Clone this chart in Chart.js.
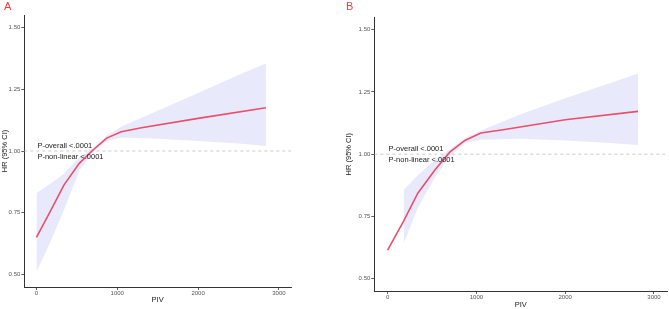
<!DOCTYPE html>
<html>
<head>
<meta charset="utf-8">
<script src="https://cdn.jsdelivr.net/npm/chart.js@4.4.1/dist/chart.umd.min.js"></script>
<style>
  body { margin: 0; background: #fff; }
  .panel { position: absolute; top: 0; height: 309px; }
  .tag { position: absolute; top: 0px; font: 11px "Liberation Sans", Arial, sans-serif; color: #f03c3c; }
</style>
</head>
<body>
<div class="panel" style="left:0;width:335px"><canvas id="chartA" width="335" height="309"></canvas></div>
<div class="panel" style="left:335px;width:334px"><canvas id="chartB" width="334" height="309"></canvas></div>
<div class="tag" style="left:4px">A</div>
<div class="tag" style="left:346px">B</div>
<script>
// panel A - fitted HR curve and 95% CI band
const curveXA = [0, 170, 340, 530, 700, 870, 1050, 1300, 2000, 2840];
const curveYA = [0.651, 0.755, 0.862, 0.950, 1.004, 1.052, 1.078, 1.094, 1.132, 1.175];
const bandXA = [0, 170, 340, 530, 700, 870, 1050, 1500, 2000, 2500, 2840];
const upperA = [0.829, 0.868, 0.908, 0.975, 1.012, 1.062, 1.098, 1.163, 1.235, 1.307, 1.354];
const lowerA = [0.512, 0.63, 0.76, 0.92, 0.995, 1.04, 1.055, 1.05, 1.04, 1.03, 1.02];

// panel B
const curveXB = [0, 180, 340, 530, 700, 870, 1050, 1300, 2000, 2820];
const curveYB = [0.614, 0.731, 0.843, 0.935, 1.008, 1.055, 1.085, 1.098, 1.138, 1.172];
const bandXB = [180, 340, 530, 700, 870, 1050, 1500, 2000, 2500, 2820];
const upperB = [0.856, 0.915, 0.975, 1.02, 1.065, 1.095, 1.16, 1.225, 1.285, 1.324];
const lowerB = [0.641, 0.785, 0.905, 0.99, 1.045, 1.058, 1.062, 1.055, 1.045, 1.037];

const xTicks = [0, 1000, 2000, 3000];
const yTicks = [0.5, 0.75, 1.0, 1.25, 1.5];
const pLabels = ['P-overall <.0001', 'P-non-linear <.0001'];

const FONT = '"Liberation Sans", Arial, sans-serif';
const lineColor = '#e8506a';
const bandColor = '#e9e9fc';

function pts(xs, ys) {
  return xs.map((x, i) => ({ x: x, y: ys[i] }));
}

// dashed HR = 1 reference line and the p-value text
const refPlugin = {
  id: 'ref',
  beforeDatasetsDraw(chart) {
    const { ctx, chartArea } = chart;
    const y = chart.scales.y.getPixelForValue(1);
    ctx.save();
    ctx.strokeStyle = '#bdbdbd';
    ctx.lineWidth = 0.8;
    ctx.setLineDash([3, 3]);
    ctx.beginPath();
    ctx.moveTo(chartArea.left, y);
    ctx.lineTo(chartArea.right, y);
    ctx.stroke();
    ctx.restore();
  },
  afterDatasetsDraw(chart) {
    const { ctx } = chart;
    const x = chart.scales.x.getPixelForValue(0) + 1;
    const y = chart.scales.y.getPixelForValue(1);
    ctx.save();
    ctx.font = '7.5px ' + FONT;
    ctx.fillStyle = '#1a1a1a';
    ctx.textBaseline = 'middle';
    ctx.fillText(pLabels[0], x, y - 5.5);
    ctx.fillText(pLabels[1], x, y + 6);
    ctx.restore();
  }
};

function makeChart(id, cx, cy, bx, up, lo, cfg) {
  return new Chart(document.getElementById(id), {
    type: 'scatter',
    data: {
      datasets: [
        { data: pts(cx, cy), showLine: true, pointRadius: 0, borderWidth: 1.6, borderColor: lineColor, fill: false },
        { data: pts(bx, lo), showLine: true, pointRadius: 0, borderWidth: 0, borderColor: 'transparent', fill: false },
        { data: pts(bx, up), showLine: true, pointRadius: 0, borderWidth: 0, borderColor: 'transparent', backgroundColor: bandColor, fill: '-1' }
      ]
    },
    options: {
      responsive: false,
      animation: false,
      events: [],
      layout: { padding: { left: 0, top: cfg.top, right: cfg.right, bottom: 0 } },
      plugins: { legend: { display: false }, tooltip: { enabled: false }, filler: { drawTime: 'beforeDatasetsDraw' } },
      scales: {
        x: {
          type: 'linear', min: -150, max: 3150,
          afterBuildTicks: s => { s.ticks = xTicks.map(v => ({ value: v })); },
          afterFit: s => { s.height = cfg.xh; },
          grid: { drawOnChartArea: false, drawTicks: true, tickLength: 3, tickColor: '#333', lineWidth: 0.8 },
          border: { display: true, color: '#333', width: 1 },
          ticks: { font: { family: FONT, size: 6 }, color: '#555', padding: 0, maxRotation: 0, callback: v => String(v) },
          title: { display: true, text: 'PIV', font: { family: FONT, size: 7.5 }, color: '#1a1a1a', padding: { top: 0, bottom: cfg.xtb } }
        },
        y: {
          type: 'linear', min: 0.45, max: 1.55,
          afterBuildTicks: s => { s.ticks = yTicks.map(v => ({ value: v })); },
          afterFit: s => { s.width = cfg.yw; },
          grid: { drawOnChartArea: false, drawTicks: true, tickLength: 3, tickColor: '#333', lineWidth: 0.8 },
          border: { display: true, color: '#333', width: 1 },
          ticks: { font: { family: FONT, size: 6 }, color: '#555', padding: 1, callback: v => v.toFixed(2) },
          title: { display: true, text: 'HR (95% CI)', font: { family: FONT, size: 7.5 }, color: '#1a1a1a', padding: { top: cfg.ytp, bottom: 0 } }
        }
      }
    },
    plugins: [refPlugin]
  });
}

makeChart('chartA', curveXA, curveYA, bandXA, upperA, lowerA, { top: 15, right: 44, xh: 22, xtb: 4.5, yw: 24.3, ytp: 0.5 });
makeChart('chartB', curveXB, curveYB, bandXB, upperB, lowerB, { top: 17.3, right: 1.7, xh: 18, xtb: 0, yw: 39.3, ytp: 9.5 });
</script>
</body>
</html>
